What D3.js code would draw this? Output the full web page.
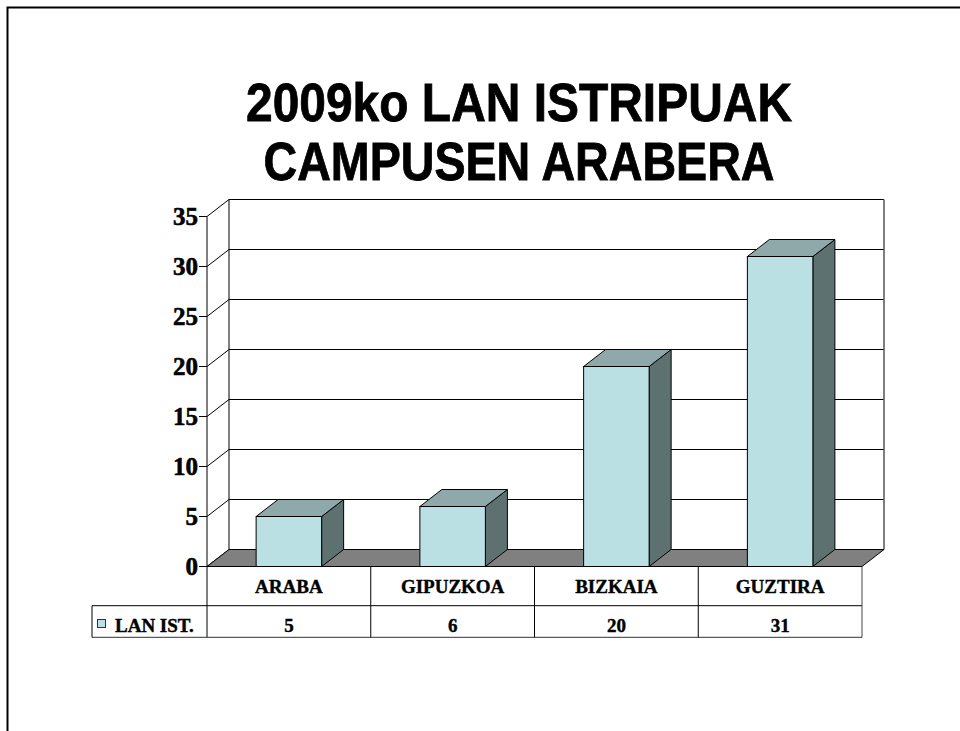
<!DOCTYPE html>
<html>
<head>
<meta charset="utf-8">
<script src="https://cdn.jsdelivr.net/npm/d3@7"></script>
<style>
  html, body { margin: 0; padding: 0; background: #fff; }
  svg { display: block; }
</style>
</head>
<body>
<svg id="chart" width="960" height="731"></svg>
<script>
// Work accidents per campus, 2009
const titleLines = ["2009ko LAN ISTRIPUAK", "CAMPUSEN ARABERA"];
const categories = ["ARABA", "GIPUZKOA", "BIZKAIA", "GUZTIRA"];
const seriesName = "LAN IST.";
const values = [5, 6, 20, 31];
const yTicks = [0, 5, 10, 15, 20, 25, 30, 35];

const svg = d3.select("#chart");
const serif = "'Liberation Serif', 'Times New Roman', serif";
const sans = "'Liberation Sans', Arial, sans-serif";

const colFront = "#bbe0e3", colTop = "#8fa8aa", colSide = "#5e7171";

// Slide frame
svg.append("path")
  .attr("d", "M7.5,731 L7.5,7.5 L960,7.5")
  .attr("fill", "none").attr("stroke", "#000").attr("stroke-width", 2);

// Title
const titleW = [546, 511];
svg.selectAll("text.title").data(titleLines).join("text")
  .attr("class", "title")
  .attr("x", 519)
  .attr("y", (d, i) => 121 + i * 59)
  .attr("text-anchor", "middle")
  .attr("font-family", sans).attr("font-weight", "bold").attr("font-size", 53)
  .attr("stroke", "#000").attr("stroke-width", 0.8)
  .attr("textLength", (d, i) => titleW[i])
  .attr("lengthAdjust", "spacingAndGlyphs")
  .text(d => d);

// Plot geometry (3D projection offset)
const left = 207, right = 862, dx = 22, dy = -17;
const x = d3.scaleBand().domain(categories).range([left, right]).paddingInner(0).paddingOuter(0);
const y = d3.scaleLinear().domain([0, 35]).range([566.5, 216.5]);
const y0 = y(0);
const barW = x.bandwidth() * 0.4;

const g = svg.append("g");

// Back wall
g.append("rect")
  .attr("x", left + dx).attr("y", y(35) + dy)
  .attr("width", right - left).attr("height", y0 - y(35))
  .attr("fill", "#fff").attr("stroke", "none");

// Gridlines on back wall and left wall
g.selectAll("line.grid").data(yTicks.filter(t => t > 0)).join("line")
  .attr("x1", left + dx).attr("x2", right + dx)
  .attr("y1", d => y(d) + dy).attr("y2", d => y(d) + dy)
  .attr("stroke", "#000").attr("stroke-width", 1);
g.selectAll("line.diag").data(yTicks).join("line")
  .attr("x1", left).attr("y1", d => y(d))
  .attr("x2", left + dx).attr("y2", d => y(d) + dy)
  .attr("stroke", "#000").attr("stroke-width", 1);

// Wall edges
g.append("line").attr("x1", left + dx).attr("x2", left + dx)
  .attr("y1", y(35) + dy).attr("y2", y0 + dy).attr("stroke", "#000");
g.append("line").attr("x1", right + dx).attr("x2", right + dx)
  .attr("y1", y(35) + dy).attr("y2", y0 + dy).attr("stroke", "#555").attr("stroke-width", 1.5);

// Floor
g.append("path")
  .attr("d", `M${left},${y0} L${right},${y0} L${right + dx},${y0 + dy} L${left + dx},${y0 + dy} Z`)
  .attr("fill", "#808080").attr("stroke", "#000").attr("stroke-width", 1);

// Bars
const bars = g.selectAll("g.bar").data(values).join("g").attr("class", "bar");
bars.each(function (v, i) {
  const b = d3.select(this);
  const x0 = x(categories[i]) + (x.bandwidth() - barW) / 2;
  const x1 = x0 + barW;
  const yv = y(v);
  b.append("path")
    .attr("d", `M${x1},${yv} L${x1 + dx},${yv + dy} L${x1 + dx},${y0 + dy} L${x1},${y0} Z`)
    .attr("fill", colSide).attr("stroke", "#000").attr("stroke-width", 1).attr("stroke-linejoin", "round");
  b.append("path")
    .attr("d", `M${x0},${yv} L${x1},${yv} L${x1 + dx},${yv + dy} L${x0 + dx},${yv + dy} Z`)
    .attr("fill", colTop).attr("stroke", "#000").attr("stroke-width", 1).attr("stroke-linejoin", "round");
  b.append("rect")
    .attr("x", x0).attr("y", yv).attr("width", barW).attr("height", y0 - yv)
    .attr("fill", colFront).attr("stroke", "#000").attr("stroke-width", 1);
});

// Value axis
g.append("line").attr("x1", left).attr("x2", left)
  .attr("y1", y(35)).attr("y2", 637.3).attr("stroke", "#000");
g.selectAll("line.tick").data(yTicks).join("line")
  .attr("x1", left - 8).attr("x2", left)
  .attr("y1", d => y(d)).attr("y2", d => y(d))
  .attr("stroke", "#000");
g.selectAll("text.tick").data(yTicks).join("text")
  .attr("x", left - 9).attr("y", d => y(d))
  .attr("dy", "0.35em")
  .attr("text-anchor", "end")
  .attr("font-family", serif).attr("font-weight", "bold").attr("font-size", 25)
  .attr("stroke", "#000").attr("stroke-width", 0.6)
  .text(d => d);

// Data table
const rowTop = y0, rowMid = 605.7, rowBot = 637.3, tableLeft = 92;
const t = svg.append("g");
t.append("line").attr("x1", tableLeft).attr("x2", right).attr("y1", rowMid).attr("y2", rowMid).attr("stroke", "#000");
t.append("line").attr("x1", tableLeft).attr("x2", right).attr("y1", rowBot).attr("y2", rowBot).attr("stroke", "#333");
t.append("line").attr("x1", tableLeft).attr("x2", tableLeft).attr("y1", rowMid).attr("y2", rowBot).attr("stroke", "#000");
t.selectAll("line.col").data(categories.slice(1).concat(["end"])).join("line")
  .attr("x1", (d, i) => i < categories.length - 1 ? x(d) : right)
  .attr("x2", (d, i) => i < categories.length - 1 ? x(d) : right)
  .attr("y1", rowTop).attr("y2", rowBot)
  .attr("stroke", (d, i) => i < categories.length - 1 ? "#000" : "#444");

t.selectAll("text.cat").data(categories).join("text")
  .attr("x", d => x(d) + x.bandwidth() / 2).attr("y", 593)
  .attr("text-anchor", "middle")
  .attr("font-family", serif).attr("font-weight", "bold").attr("font-size", 19)
  .attr("stroke", "#000").attr("stroke-width", 0.4)
  .text(d => d);
t.selectAll("text.val").data(values).join("text")
  .attr("x", (d, i) => x(categories[i]) + x.bandwidth() / 2).attr("y", 631.5)
  .attr("text-anchor", "middle")
  .attr("font-family", serif).attr("font-weight", "bold").attr("font-size", 19)
  .attr("stroke", "#000").attr("stroke-width", 0.4)
  .text(d => d);

// Legend key in the table
t.append("rect").attr("x", 97.5).attr("y", 619.5).attr("width", 8).attr("height", 8)
  .attr("fill", colFront).attr("stroke", "#333");
t.append("text").attr("x", 115).attr("y", 631.5)
  .attr("font-family", serif).attr("font-weight", "bold").attr("font-size", 19)
  .attr("stroke", "#000").attr("stroke-width", 0.4)
  .text(seriesName);
</script>
</body>
</html>
